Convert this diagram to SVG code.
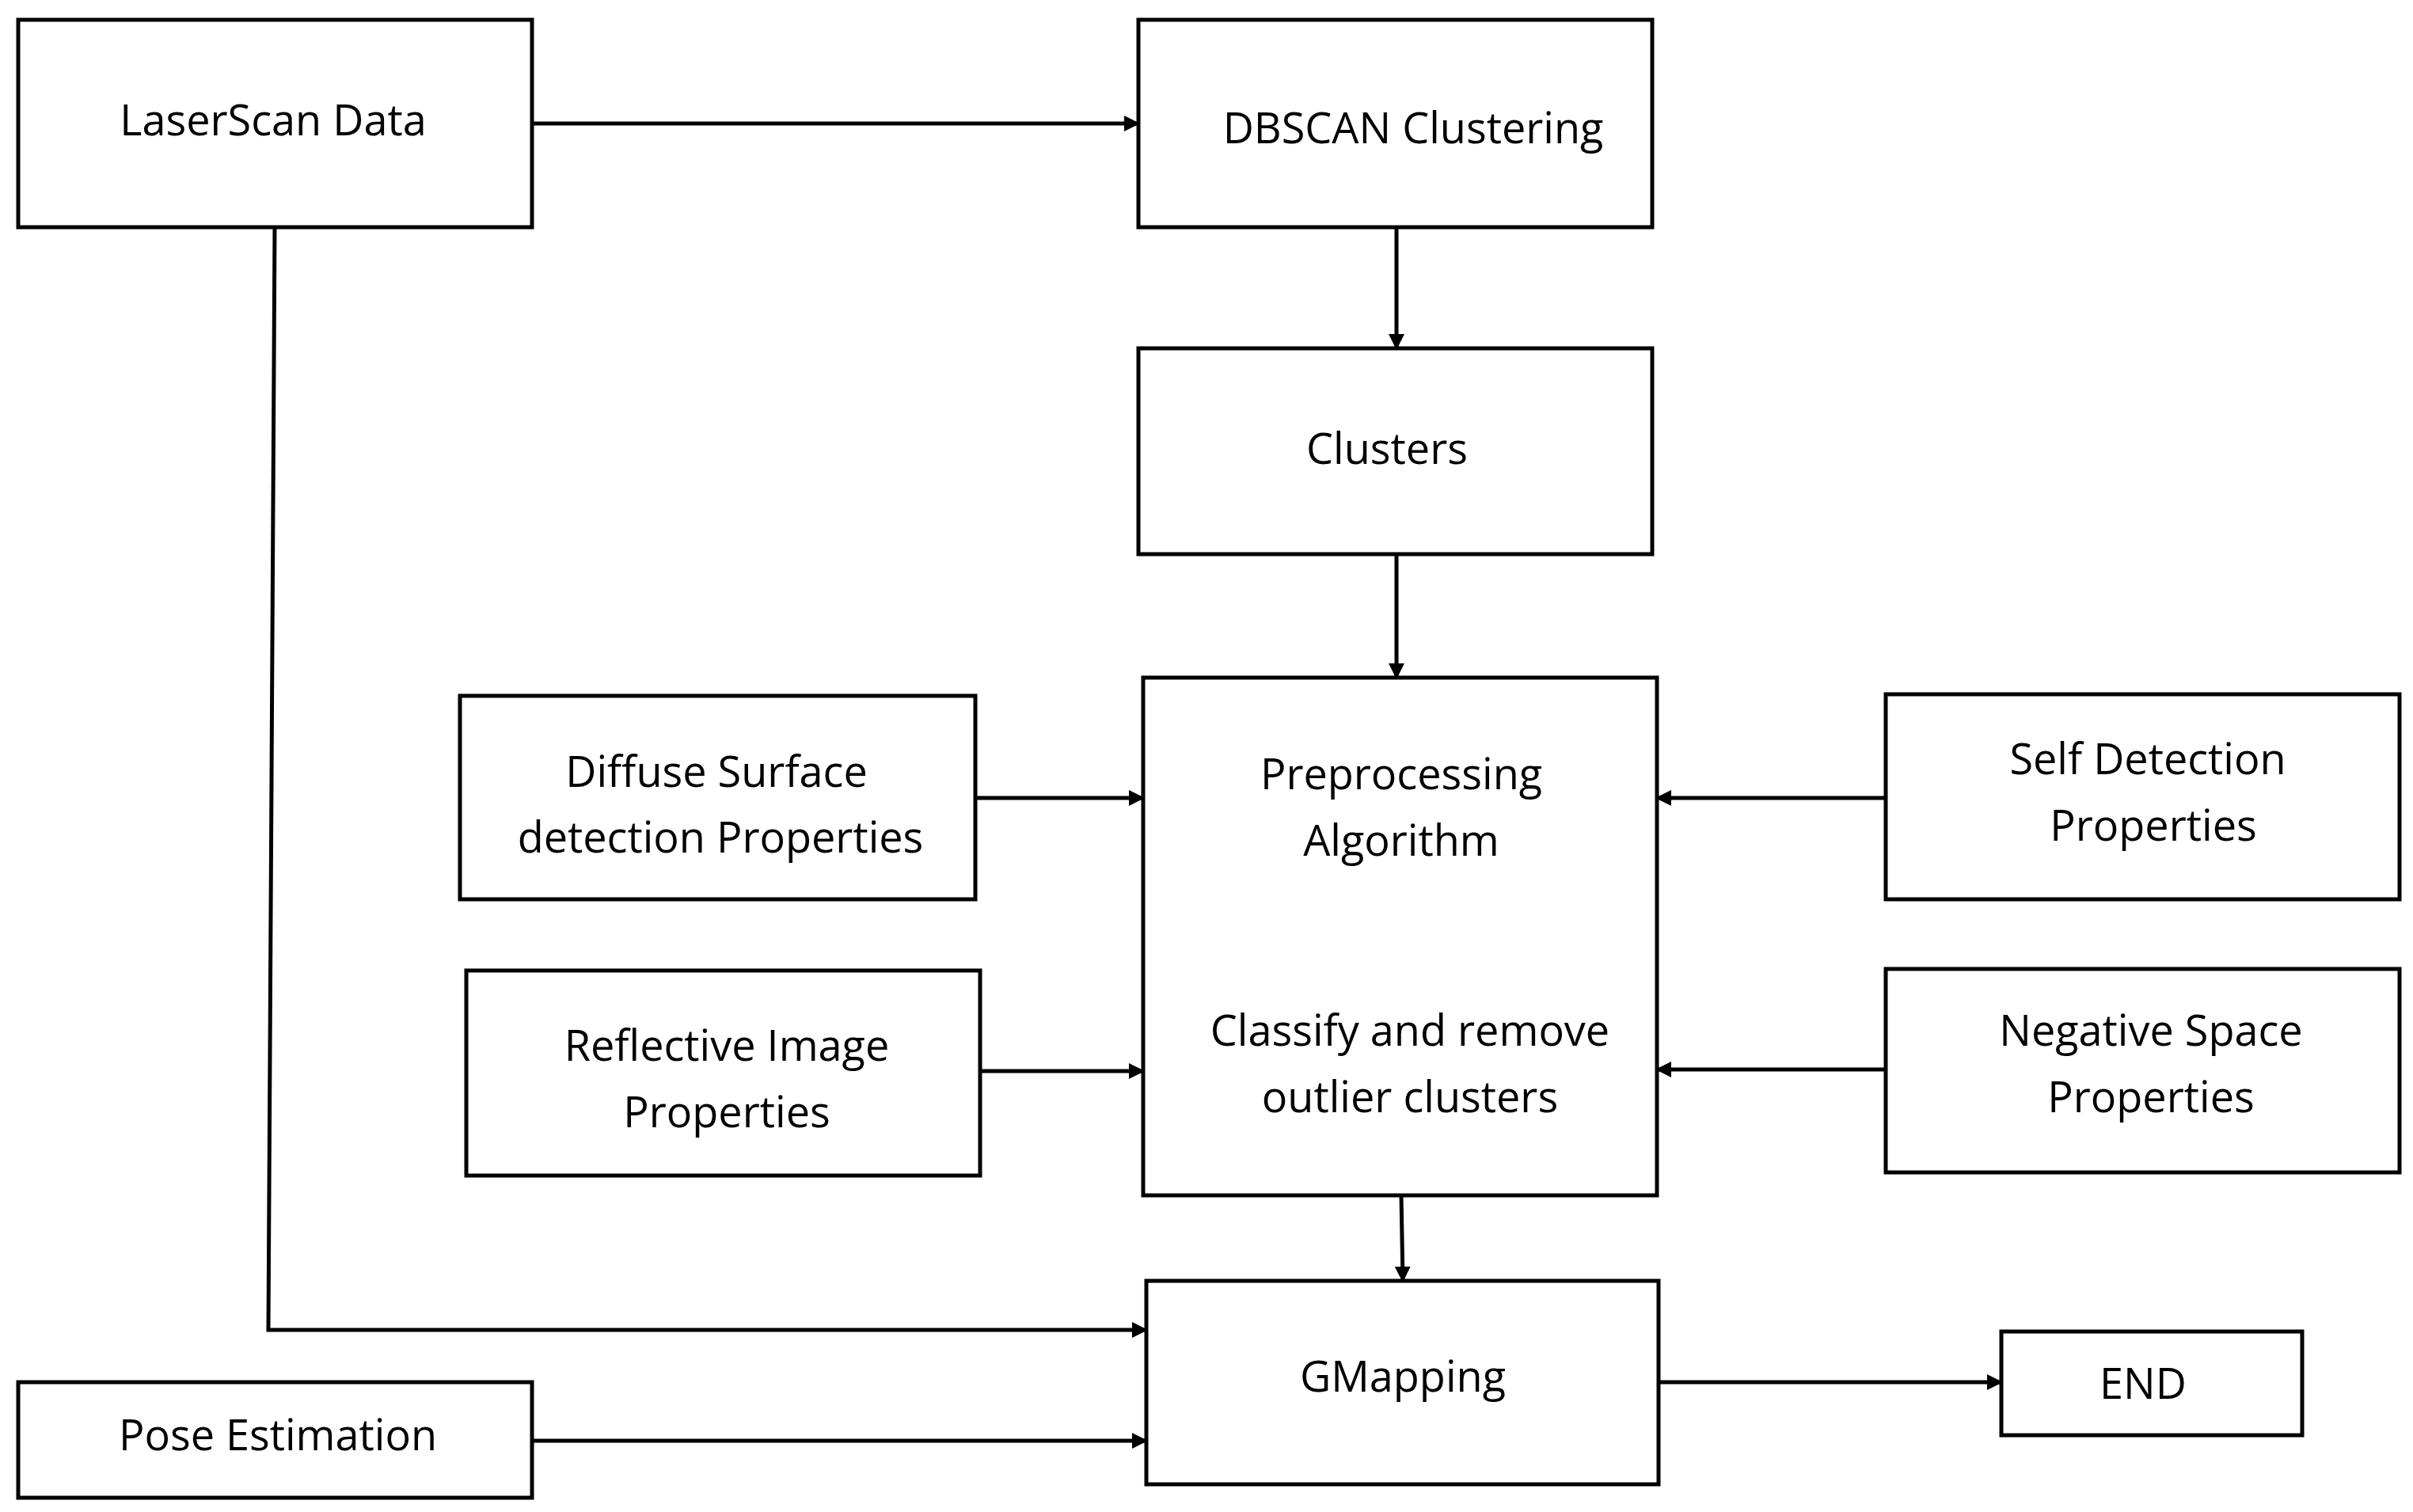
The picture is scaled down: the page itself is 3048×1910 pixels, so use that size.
<svg xmlns="http://www.w3.org/2000/svg" width="3048" height="1910" viewBox="0 0 3048 1910">
<style>
.b{fill:#fff;stroke:#000;stroke-width:5}
.t{font-family:"Open Sans","Liberation Sans",sans-serif;font-size:54px;fill:#000;text-anchor:middle;dominant-baseline:central}
.c{fill:none;stroke:#000;stroke-width:5;marker-end:url(#a)}
</style>
<defs><marker id="a" viewBox="0 0 10 10" refX="9" refY="5" markerWidth="4" markerHeight="4" orient="auto" markerUnits="strokeWidth"><path d="M0,0L10,5L0,10z" fill="#000"/></marker></defs>
<rect width="3048" height="1910" fill="#fff"/>
<g id="connectors">
<path class="c" d="M672,156H1438"/>
<path class="c" d="M1764,287V440"/>
<path class="c" d="M1764,700V856"/>
<path class="c" d="M1232,1008H1444"/>
<path class="c" d="M1238,1353H1444"/>
<path class="c" d="M2382,1008H2093"/>
<path class="c" d="M2382,1351H2093"/>
<path class="c" d="M1770,1510L1772,1618"/>
<path class="c" d="M347,287L339,1680H1448"/>
<path class="c" d="M672,1820H1448"/>
<path class="c" d="M2095,1746H2528"/>
</g>
<g id="laserscan"><rect class="b" x="23" y="25" width="649" height="262"/><text class="t" x="345" y="150">LaserScan Data</text></g>
<g id="dbscan"><rect class="b" x="1438" y="25" width="649" height="262"/><text class="t" x="1785" y="160">DBSCAN Clustering</text></g>
<g id="clusters"><rect class="b" x="1438" y="440" width="649" height="260"/><text class="t" x="1752" y="565">Clusters</text></g>
<g id="preproc"><rect class="b" x="1444" y="856" width="649" height="654"/><text class="t" x="1770" y="976">Preprocessing</text><text class="t" x="1770" y="1060">Algorithm</text><text class="t" x="1781" y="1300">Classify and remove</text><text class="t" x="1781" y="1384">outlier clusters</text></g>
<g id="diffuse"><rect class="b" x="581" y="879" width="651" height="257"/><text class="t" x="905" y="973">Diffuse Surface</text><text class="t" x="910" y="1056">detection Properties</text></g>
<g id="reflective"><rect class="b" x="589" y="1226" width="649" height="259"/><text class="t" x="918" y="1319">Reflective Image</text><text class="t" x="918" y="1403">Properties</text></g>
<g id="self"><rect class="b" x="2382" y="877" width="649" height="259"/><text class="t" x="2713" y="957">Self Detection</text><text class="t" x="2720" y="1041">Properties</text></g>
<g id="negative"><rect class="b" x="2382" y="1224" width="649" height="257"/><text class="t" x="2717" y="1300">Negative Space</text><text class="t" x="2717" y="1384">Properties</text></g>
<g id="gmapping"><rect class="b" x="1448" y="1618" width="647" height="257"/><text class="t" x="1772" y="1737">GMapping</text></g>
<g id="end"><rect class="b" x="2528" y="1682" width="380" height="131"/><text class="t" x="2707" y="1746">END</text></g>
<g id="pose"><rect class="b" x="23" y="1746" width="649" height="146"/><text class="t" x="351" y="1811">Pose Estimation</text></g>
</svg>
